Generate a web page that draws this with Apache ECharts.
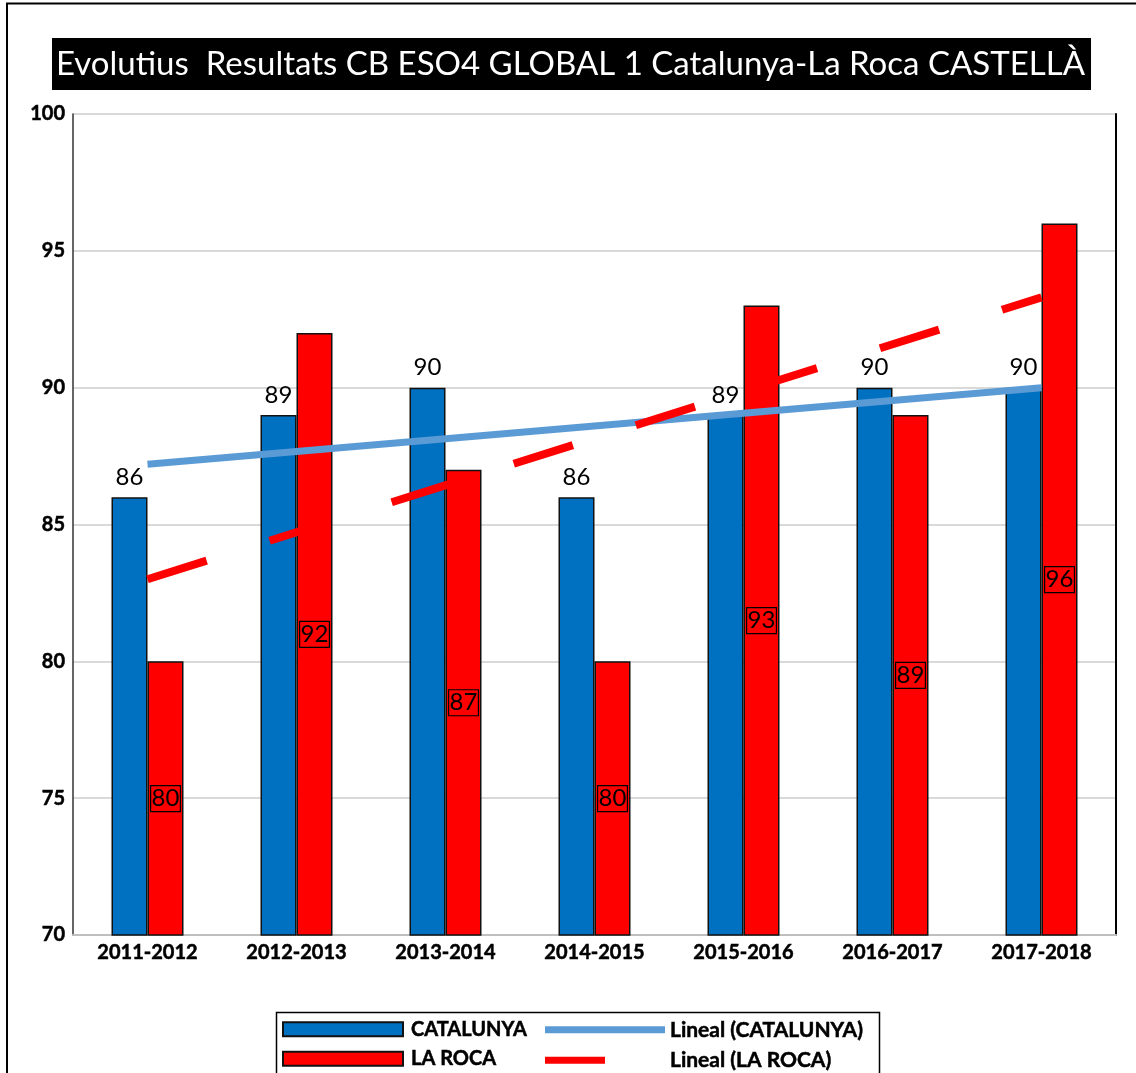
<!DOCTYPE html>
<html>
<head>
<meta charset="utf-8">
<script src="https://cdn.jsdelivr.net/npm/echarts@6/dist/echarts.min.js"></script>
<style>html,body{margin:0;padding:0;background:#fff}#c{width:1136px;height:1073px}</style>
</head>
<body>
<div id="c"></div>
<script>
const categories = ['2011-2012','2012-2013','2013-2014','2014-2015','2015-2016','2016-2017','2017-2018'];
const catalunya = [86, 89, 90, 86, 89, 90, 90];
const laRoca = [80, 92, 87, 80, 93, 89, 96];
const trendCatalunya = [87.2, null, null, null, null, null, 90.0];
const trendLaRoca = [83.0, null, null, null, null, null, 93.3];
const yTicks = [70, 75, 80, 85, 90, 95, 100];

const FONT = 'Lato';
const boldText = { fontFamily: FONT, fontWeight: 'bold', color: '#000', textBorderColor: '#000', textBorderWidth: 0.5 };
const chart = echarts.init(document.getElementById('c'));
chart.setOption({
  animation: false,
  backgroundColor: '#fff',
  title: {
    text: 'Evolutius  Resultats CB ESO4 GLOBAL 1 Catalunya-La Roca CASTELLÀ',
    left: 52, top: 38,
    backgroundColor: '#000',
    padding: [8, 6, 8, 4],
    textStyle: { color: '#fff', fontFamily: FONT, fontWeight: 'normal', fontSize: 33, lineHeight: 36 }
  },
  graphic: [
    { type: 'rect', shape: { x: 7, y: 3.5, width: 1300, height: 1300 }, style: { fill: 'none', stroke: '#000', lineWidth: 2 }, silent: true, z: 100 },
    { type: 'rect', shape: { x: 276.5, y: 1012.5, width: 603, height: 90 }, style: { fill: 'none', stroke: '#000', lineWidth: 1.5 }, silent: true, z: 100 }
  ],
  legend: [
    {
      orient: 'vertical', left: 282, top: 1019, padding: 0, itemWidth: 120, itemHeight: 14, itemGap: 9,
      icon: 'rect',
      data: ['CATALUNYA', 'LA ROCA'],
      textStyle: Object.assign({ fontSize: 20, padding: [0, 0, 0, 3] }, boldText)
    },
    {
      orient: 'vertical', left: 545, top: 1019, padding: 0, itemWidth: 120, itemHeight: 7, itemGap: 9,
      data: [
        { name: 'Lineal (CATALUNYA)', icon: 'rect' },
        { name: 'Lineal (LA ROCA)', icon: 'path://M0,0H60V7H0Z M120,0H120.01V7H120Z' }
      ],
      textStyle: Object.assign({ fontSize: 21 }, boldText)
    }
  ],
  grid: { left: 73, right: 20, top: 114, bottom: 138, containLabel: false },
  xAxis: {
    type: 'category', data: categories,
    axisLine: { lineStyle: { color: '#bfbfbf', width: 2 } },
    axisTick: { show: false },
    axisLabel: Object.assign({ fontSize: 20, margin: 8 }, boldText)
  },
  yAxis: [
    {
      type: 'value', min: yTicks[0], max: yTicks[yTicks.length - 1], interval: 5,
      axisLine: { show: true, lineStyle: { color: '#333', width: 1.5 } },
      axisTick: { show: false },
      splitLine: { lineStyle: { color: '#d9d9d9', width: 2 } },
      axisLabel: Object.assign({ fontSize: 20, margin: 8 }, boldText)
    },
    {
      type: 'value', position: 'right', min: 70, max: 100, interval: 5,
      axisLine: { show: true, lineStyle: { color: '#000', width: 2 } },
      axisTick: { show: false }, axisLabel: { show: false }, splitLine: { show: false }
    }
  ],
  series: [
    {
      name: 'CATALUNYA', type: 'bar', data: catalunya, barWidth: 36, barGap: '0%',
      itemStyle: { color: '#0070c0', borderColor: '#111', borderWidth: 1.5 },
      label: { show: true, position: 'top', distance: 8, fontFamily: FONT, fontSize: 24, color: '#000' }
    },
    {
      name: 'LA ROCA', type: 'bar', data: laRoca, barWidth: 36,
      itemStyle: { color: '#ff0000', borderColor: '#111', borderWidth: 1.5 },
      label: { show: true, position: 'inside', fontFamily: FONT, fontSize: 24, color: '#000',
        borderColor: '#000', borderWidth: 1.2, padding: [2, 1, 0, 1] }
    },
    {
      name: 'Lineal (CATALUNYA)', type: 'line', data: trendCatalunya, connectNulls: true,
      symbol: 'none', showSymbol: false, z: 5,
      itemStyle: { color: '#5b9bd5' },
      lineStyle: { color: '#5b9bd5', width: 7 }
    },
    {
      name: 'Lineal (LA ROCA)', type: 'line', data: trendLaRoca, connectNulls: true,
      symbol: 'none', showSymbol: false, z: 5,
      itemStyle: { color: '#ff0000' },
      lineStyle: { color: '#ff0000', width: 8, type: [62, 66], cap: 'butt' }
    }
  ]
});
</script>
</body>
</html>
